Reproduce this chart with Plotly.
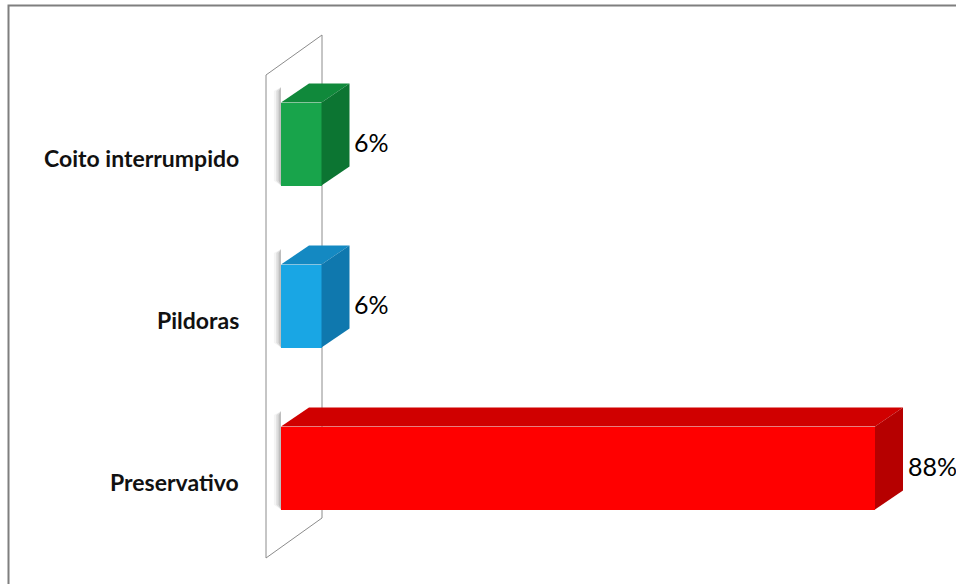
import plotly.graph_objects as go

# --- data -------------------------------------------------------------
categories = ["Preservativo", "Pildoras", "Coito interrumpido"]
values = [88, 6, 6]
value_labels = ["88%", "6%", "6%"]

front_colors = ["#FF0000", "#19A6E4", "#18A44B"]
top_colors = ["#D00000", "#1489C2", "#10893B"]
side_colors = ["#B60000", "#0F78AE", "#0C7532"]

# --- layout geometry (canvas pixels -> axis units) --------------------
W, H = 956, 584
ZERO_PX = 281          # pixel column of value 0 on the front plane
PX_PER_UNIT = 6.75     # pixels per percentage point
ROW0_PX = 468          # pixel row of the first category centre
ROW_STEP_PX = 162      # pixels between category centres


def xu(px):
    return (px - ZERO_PX) / PX_PER_UNIT


def yu(py):
    return (ROW0_PX - py) / ROW_STEP_PX


BAR_W = 83 / ROW_STEP_PX          # thickness of a bar's front face
DX = 28 / PX_PER_UNIT             # depth offset, horizontal
DY = 19 / ROW_STEP_PX             # depth offset, vertical

fig = go.Figure()
ypos = list(range(len(categories)))

# soft shadow down the left edge of each bar, fading outwards
for i, v in enumerate(values):
    yt, yb = ypos[i] + BAR_W / 2, ypos[i] - BAR_W / 2
    for k, alpha in enumerate([0.30, 0.18, 0.08]):
        w = 0.35 * (k + 1)
        fig.add_trace(go.Scatter(
            x=[-w, 0, 0, -w, -w],
            y=[yb + 0.03, yb, yt + DY * 0.8, yt + DY * 0.6, yb + 0.03],
            mode="lines", line=dict(width=0),
            fill="toself", fillcolor=f"rgba(120,120,120,{alpha})",
            hoverinfo="skip", showlegend=False))

# front faces of the bars
fig.add_trace(go.Bar(
    x=values, y=ypos, orientation="h", width=BAR_W, base=0,
    marker=dict(color=front_colors, line=dict(width=0)),
    hoverinfo="skip", showlegend=False))

# top and side faces giving the bars depth
for i, v in enumerate(values):
    yt, yb = ypos[i] + BAR_W / 2, ypos[i] - BAR_W / 2
    fig.add_trace(go.Scatter(
        x=[0, v, v + DX, DX, 0],
        y=[yt, yt, yt + DY, yt + DY, yt],
        mode="lines", line=dict(width=0),
        fill="toself", fillcolor=top_colors[i],
        hoverinfo="skip", showlegend=False))
    fig.add_trace(go.Scatter(
        x=[v, v + DX, v + DX, v, v],
        y=[yb, yb + DY, yt + DY, yt, yb],
        mode="lines", line=dict(width=0),
        fill="toself", fillcolor=side_colors[i],
        hoverinfo="skip", showlegend=False))

annotations = []
# value labels just past the end of each bar
for i, v in enumerate(values):
    annotations.append(dict(
        x=v + DX + 0.4, y=ypos[i] + 0.01, xref="x", yref="y",
        text=value_labels[i], showarrow=False, xanchor="left", yanchor="middle",
        font=dict(family="Lato", size=25, color="#000000")))
# category labels
for i, c in enumerate(categories):
    annotations.append(dict(
        x=xu(241), y=ypos[i] - 14 / ROW_STEP_PX, xref="x", yref="y",
        text="<b>" + c + "</b>", showarrow=False, xanchor="right", yanchor="middle",
        font=dict(family="Lato", size=23, color="#111111")))

# back wall of the 3-D plot (the value-axis plane), behind the bars
wx0, wx1 = xu(266), xu(322)
wyb0, wyt0 = yu(558), yu(75)
wyb1, wyt1 = yu(518), yu(35)
wall = dict(type="path", xref="x", yref="y", layer="below",
            path=f"M {wx0},{wyb0} L {wx1},{wyb1} L {wx1},{wyt1} L {wx0},{wyt0} Z",
            line=dict(color="#8c8c8c", width=1), fillcolor="rgba(255,255,255,0)")

frame = dict(type="rect", xref="paper", yref="paper",
             x0=8.5 / W, x1=1.05, y0=-0.05, y1=1 - 5.5 / H,
             line=dict(color="#7f7f7f", width=2), layer="above")

fig.update_layout(
    width=W, height=H, autosize=False,
    margin=dict(l=0, r=0, t=0, b=0),
    paper_bgcolor="white", plot_bgcolor="white",
    xaxis=dict(range=[xu(0), xu(W)], visible=False, fixedrange=True),
    yaxis=dict(range=[yu(H), yu(0)], visible=False, fixedrange=True),
    annotations=annotations,
    shapes=[wall, frame],
    bargap=0,
)

fig.write_html("out.html")
